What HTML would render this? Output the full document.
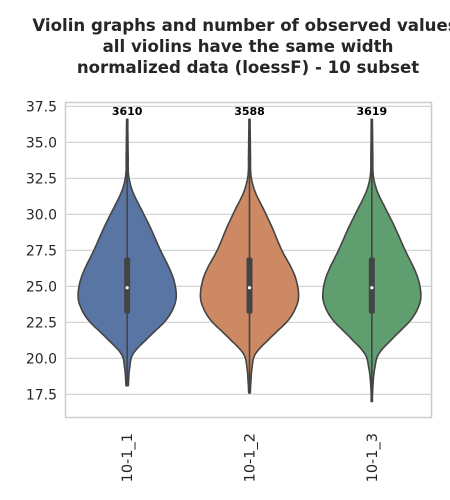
<!DOCTYPE html>
<html><head><meta charset="utf-8"><style>
body{margin:0;background:#fff;}
svg{display:block;font-family:"DejaVu Sans","Liberation Sans",sans-serif;}
</style></head><body>
<svg id="chart" width="450" height="500">
<g font-weight="bold" font-size="16.6" fill="#262626" text-anchor="middle">
<text x="245" y="31">Violin graphs and number of observed values</text>
<text x="248" y="52">all violins have the same width</text>
<text x="248" y="73">normalized data (loessF) - 10 subset</text>
</g>
<g id="grid"></g>
<g id="yaxis"></g>
<g id="xaxis"></g>
<g id="violins"></g>
<rect x="65.5" y="102.5" width="366" height="315" fill="none" stroke="#cccccc" stroke-width="1.5"/>
</svg>
<script>
const categories=["10-1_1","10-1_2","10-1_3"];
const counts=[3610,3588,3619];
const colors=["#5975a4","#cc8963","#5f9e6e"];
const medians=[24.9,24.9,24.9];
const q1s=[23.1,23.1,23.1];
const q3s=[27.0,27.0,27.0];
const mins=[18.1,17.6,17.0];
const maxs=[36.6,36.6,36.6];
const profileVals=[16.5,18.5,19.3,20.3,21.5,22.6,23.4,24.2,25.2,26.1,27.5,29.1,30.2,31.6,32.7,34,37];
const profile1=[0,0.03,0.05,0.12,0.45,0.78,0.93,1.0,0.97,0.88,0.68,0.47,0.31,0.11,0.03,0.02,0.01];
const profile2=[0,0.03,0.05,0.12,0.45,0.78,0.93,1.0,0.97,0.88,0.66,0.46,0.31,0.11,0.03,0.02,0.01];
const profile3=[0,0.03,0.06,0.14,0.46,0.78,0.93,1.0,0.97,0.88,0.68,0.47,0.31,0.11,0.03,0.02,0.01];
const profiles=[profile1,profile2,profile3];
const yTicks=[17.5,20.0,22.5,25.0,27.5,30.0,32.5,35.0,37.5];

const ns="http://www.w3.org/2000/svg";
const L=65,R=432,T=102,B=417;
const y=v=>286.3-(v-25)*14.4;
const band=(R-L)/categories.length;
const x=i=>L+band*(i+0.5)+1;
const maxHalf=49;
function mk(tag,attrs,parent){const e=document.createElementNS(ns,tag);for(const k in attrs)e.setAttribute(k,attrs[k]);parent.appendChild(e);return e;}
const grid=document.getElementById('grid'),ya=document.getElementById('yaxis'),xa=document.getElementById('xaxis'),vg=document.getElementById('violins');
yTicks.forEach(t=>{
 const l=mk('line',{x1:L,x2:R,y1:y(t),y2:y(t),stroke:'#d0d0d0','stroke-width':1.2},grid);
 
 
 const tx=mk('text',{x:L-8,y:y(t)+5,'text-anchor':'end','font-size':14,fill:'#262626'},ya);
 tx.textContent=t.toFixed(1);
 
 
});
function interp(vals,ws,v){
 const n=vals.length;
 if(v<=vals[0])return ws[0];if(v>=vals[n-1])return ws[n-1];
 for(let i=0;i<n-1;i++)if(v>=vals[i]&&v<=vals[i+1]){
  const h=vals[i+1]-vals[i],t=(v-vals[i])/h;
  const m=j=>{const a=Math.max(j-1,0),b=Math.min(j+1,n-1);return (ws[b]-ws[a])/(vals[b]-vals[a]);};
  const m0=m(i)*h,m1=m(i+1)*h,t2=t*t,t3=t2*t;
  return (2*t3-3*t2+1)*ws[i]+(t3-2*t2+t)*m0+(-2*t3+3*t2)*ws[i+1]+(t3-t2)*m1;
 }
}
categories.forEach((c,i)=>{
 const cx=x(i);
 const g=mk('g',{},vg);
 
 
 const pts=[];const steps=150;
 for(let k=0;k<=steps;k++){const v=mins[i]+(maxs[i]-mins[i])*k/steps;let w=interp(profileVals,profiles[i],v);w=Math.max(w,0.012);pts.push([v,w]);}
 let d='';
 pts.forEach((p,k)=>{d+=(k?'L':'M')+(cx+p[1]*maxHalf).toFixed(1)+','+y(p[0]).toFixed(1);});
 for(let k=pts.length-1;k>=0;k--){const p=pts[k];d+='L'+(cx-p[1]*maxHalf).toFixed(1)+','+y(p[0]).toFixed(1);}
 d+='Z';
 const body=mk('path',{d:d,fill:colors[i],stroke:'#444','stroke-width':1.6,'stroke-linejoin':'round'},g);
 
 
 const wh=mk('line',{x1:cx,x2:cx,y1:y(mins[i]),y2:y(maxs[i]),stroke:'#444','stroke-width':1.6},g);
 
 
 const bx=mk('rect',{x:cx-3,y:y(q3s[i]),width:6,height:y(q1s[i])-y(q3s[i]),rx:2,fill:'#444'},g);
 
 
 const md=mk('circle',{cx:cx,cy:y(medians[i]),r:1.6,fill:'#fff'},g);
 
 
 const ct=mk('text',{x:cx,y:115,'text-anchor':'middle','font-size':11,'font-weight':'bold',fill:'#000'},g);
 ct.textContent=counts[i];
 
 
 const xl=mk('text',{x:0,y:0,'text-anchor':'end','font-size':14.5,fill:'#262626',transform:`translate(${cx+5},433) rotate(-90)`},xa);
 xl.textContent=c;
 
 
});
</script>
</body></html>
